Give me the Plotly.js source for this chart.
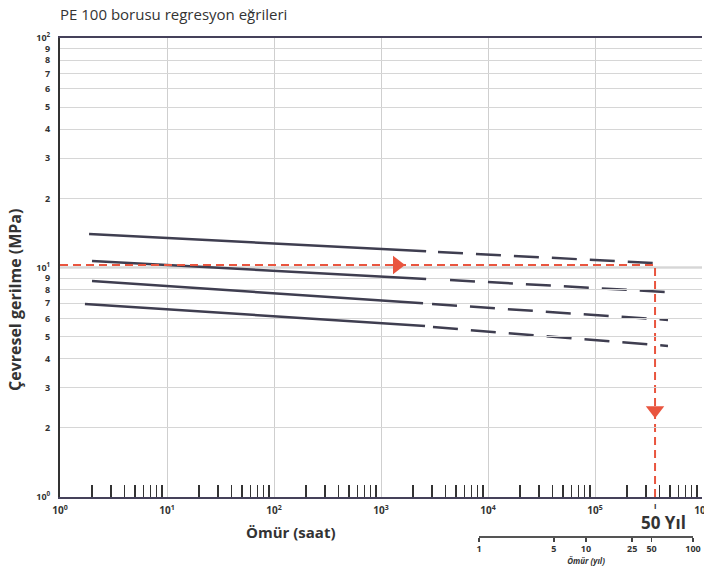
<!DOCTYPE html>
<html><head><meta charset="utf-8">
<script src="https://cdn.plot.ly/plotly-3.0.1.min.js"></script>
<style>html,body{margin:0;padding:0;background:#fff}#chart{width:704px;height:569px}</style>
</head><body><div id="chart"></div>
<script>
// ---- data ----
const chartTitle = 'PE 100 borusu regresyon eğrileri';
const xTitle = 'Ömür (saat)';
const yTitle = 'Çevresel gerilme (MPa)';
const yearTitle = 'Ömür (yıl)';
const markLabel = '50 Yıl';

const decadeTicks = [1, 10, 100, 1000, 10000, 100000, 1000000];
const decadeLabels = ['10<sup>0</sup>','10<sup>1</sup>','10<sup>2</sup>','10<sup>3</sup>','10<sup>4</sup>','10<sup>5</sup>','10<sup>6</sup>'];
const minorMultipliers = [2, 3, 4, 5, 6, 7, 8, 9];

const yTickVals = [1,2,3,4,5,6,7,8,9,10,20,30,40,50,60,70,80,90,100];
const yTickText = ['10<sup>0</sup>','2','3','4','5','6','7','8','9','10<sup>1</sup>','2','3','4','5','6','7','8','9','10<sup>2</sup>'];

// each line: start, end of solid part, start of dashed part, end of dashed part
const line1T = [1.87, 2640, 3410, 348000];  const line1S = [14.0, 11.77, 11.68, 10.46];
const line2T = [1.99, 2640, 4415, 471000];  const line2S = [10.67, 8.91, 8.82, 7.82];
const line3T = [1.99, 2470, 3000, 481000];  const line3S = [8.73, 6.98, 6.93, 5.91];
const line4T = [1.71, 2580, 3060, 481000];  const line4S = [6.93, 5.56, 5.50, 4.55];

// red reference path (as drawn) and its arrow heads
const refT = [1, 364000, 364000];
const refS = [10.25, 10.25, 1];
const arrowRightT = [1412]; const arrowRightS = [10.25];
const arrowDownT = [364000]; const arrowDownS = [2.39];
const gridStress10 = 10;

// secondary years axis (label positions as printed)
const yearTickVals = [1, 5, 10, 27, 41, 100];
const yearTickText = ['1', '5', '10', '25', '50', '100'];

// ---- build ----
const minorX = [];
decadeTicks.slice(0, -1).forEach(d => minorMultipliers.forEach(m => minorX.push(d * m)));

const lineColor = '#3f3e50';
const red = '#e9553f';
const font = 'Open Sans, Noto Sans, sans-serif';

function seg(T, S) {
  return [
    {x: T.slice(0,2), y: S.slice(0,2), mode:'lines', line:{color:lineColor, width:2.5}, hoverinfo:'skip', showlegend:false},
    {x: T.slice(2,4), y: S.slice(2,4), mode:'lines', line:{color:lineColor, width:2.5, dash:'25px,13px'}, hoverinfo:'skip', showlegend:false}
  ];
}

const traces = [];
traces.push({x: [1], y: [null], xaxis:'x2', yaxis:'y', mode:'markers', hoverinfo:'skip', showlegend:false});
traces.push(...seg(line1T,line1S), ...seg(line2T,line2S), ...seg(line3T,line3S), ...seg(line4T,line4S));
traces.push({x: refT, y: refS, mode:'lines', line:{color:red, width:2, dash:'8px,5px'}, hoverinfo:'skip', showlegend:false});
traces.push({x: arrowRightT, y: arrowRightS, mode:'markers', marker:{symbol:'triangle-right', size:16, color:red}, hoverinfo:'skip', showlegend:false});
traces.push({x: arrowDownT, y: arrowDownS, mode:'markers', marker:{symbol:'triangle-down', size:16, color:red}, hoverinfo:'skip', showlegend:false});

const yBottom = 68/527;

const layout = {
  width: 704, height: 569,
  margin: {l:60, r:2, t:38, b:4},
  paper_bgcolor:'#fff', plot_bgcolor:'rgba(0,0,0,0)',
  showlegend:false,
  title: {text: chartTitle, x: 60/704, xanchor:'left', xref:'container', y: 1-15/569, yanchor:'middle', yref:'container',
          font:{family:font, size:15, color:'#333'}},
  xaxis: {
    type:'log', range:[0, 6], domain:[0,1],
    tickmode:'array', tickvals: decadeTicks, ticktext: decadeLabels, ticks:'',
    tickfont: {family: font, size: 10, color: '#333', weight: 'bold'}, ticklabeloverflow:'allow', ticklabelstandoff: 3,
    showgrid:true, gridcolor:'#cfcfcf', gridwidth:1,
    showline:true, linecolor:'#45415a', linewidth:2, mirror:true,
    minor:{tickmode:'array', tickvals: minorX, ticks:'inside', ticklen:12, tickwidth:1.5, tickcolor:'#333', showgrid:false},
    zeroline:false, fixedrange:true
  },
  yaxis: {
    type:'log', range:[0, 2], domain:[yBottom, 1],
    tickmode:'array', tickvals: yTickVals, ticktext: yTickText, ticks:'',
    tickfont: {family: font, size: 9, color: '#333', weight: 'bold'}, ticklabelstandoff: 6,
    showgrid:true, gridcolor:'#d6d6d6', gridwidth:1,
    showline:true, linecolor:'#333', linewidth:2,
    zeroline:false, fixedrange:true
  },
  xaxis2: {
    type:'log', range:[0, 2], domain:[(479-60)/642, (693-60)/642],
    anchor:'free', position: 29/527,
    tickmode:'array', tickvals: yearTickVals, ticktext: yearTickText,
    ticks:'outside', ticklen:4, tickwidth:1.5, tickcolor:'#444',
    tickfont:{family:font, size:9, color:'#333', weight:'bold'}, ticklabeloverflow:'allow',
    showgrid:false, showline:true, linecolor:'#555', linewidth:1.5, zeroline:false,
    title:{text:'<i>'+yearTitle+'</i>', font:{family:font, size:8, color:'#333', weight:'bold'}, standoff:1},
    fixedrange:true
  },
  shapes: [
    {type:'line', xref:'paper', x0:0, x1:1, yref:'y', y0:gridStress10, y1:gridStress10, line:{color:'#8c8c8c', width:1.3}, layer:'between'}
  ],
  annotations: [
    {text: yTitle, xref:'paper', yref:'paper', x:(15-60)/642, y:(565-300)/527, xanchor:'center', yanchor:'middle', textangle:-90, showarrow:false,
     font:{family:font, size:16, color:'#333', weight:'bold'}},
    {text: xTitle, xref:'paper', yref:'paper', x:(291-60)/642, y:(565-532)/527, xanchor:'center', yanchor:'middle', showarrow:false,
     font:{family:font, size:15, color:'#333', weight:'bold'}},
    {text: markLabel, xref:'paper', yref:'paper', x:(663-60)/642, y:(565-522)/527, xanchor:'center', yanchor:'middle', showarrow:false,
     font:{family:font, size:17, color:'#333', weight:'bold'}},
    {text: 'ı', xref:'x', yref:'paper', x: Math.log10(refT[1]), y:(565-505)/527, xanchor:'center', yanchor:'middle', showarrow:false,
     font:{family:font, size:8, color:'#333', weight:'bold'}}
  ]
};

Plotly.newPlot('chart', traces, layout, {staticPlot:true, displayModeBar:false});
</script></body></html>
